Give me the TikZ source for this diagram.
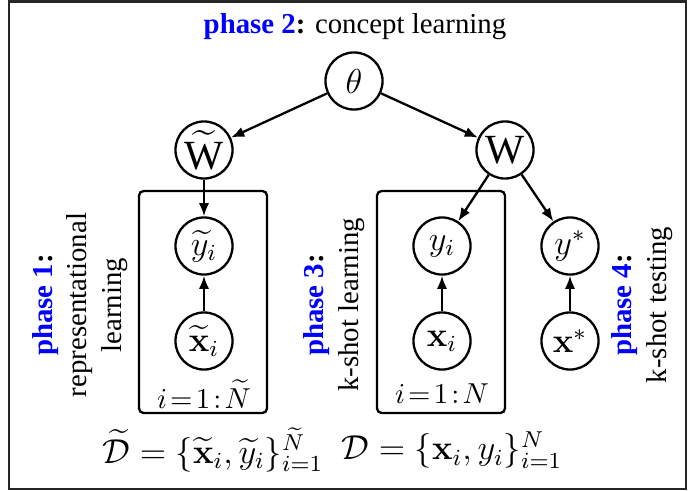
\documentclass[tikz,border=0pt]{standalone}
\usepackage{amsmath, amssymb}
\usepackage[no-math]{fontspec}
\setmainfont{Liberation Serif}
\usetikzlibrary{calc, arrows.meta}
\newcommand{\phase}[1]{\textcolor{blue}{\textbf{phase #1}}\textbf{:}}

\begin{document}
\begin{tikzpicture}[x=0.347pt, y=-0.347pt, >={Latex[length=4.6pt, width=3.6pt]}]
            \tikzset{
                latent/.style = {circle, draw, line width = 0.8pt, minimum size = 19.8pt, inner sep = 0pt, font = \large},
                plate/.style = {draw, line width = 0.8pt, rounded corners = 1.6pt},
                edge/.style = {->, line width = 0.8pt},
                phasetext/.style = {rotate = 90, align = center, inner sep = 0pt}
            }
            \useasboundingbox (0, 0) rectangle (689, 491);
            \draw [line width = 1pt, black!85] (9, 1.5) rectangle (686, 489);

            \pgfmathsetmacro{\colL}{204}  % plate 1
            \pgfmathsetmacro{\colM}{442}  % plate 2
            \pgfmathsetmacro{\colR}{570}  % test pair
            \pgfmathsetmacro{\rowW}{150}
            \pgfmathsetmacro{\rowY}{246}
            \pgfmathsetmacro{\rowX}{341}

            \node (title) at (355, 27) {\phase{2} concept learning};

            \node [latent] (theta) at (354, 81) {$\theta$};
            \node [latent, font = \Large] (Wt) at (\colL, \rowW) {$\widetilde{\text{W}}$};
            \node [latent, font = \Large] (W) at (505, \rowW) {W};

            \node [latent] (yt) at (\colL, \rowY) {$\widetilde{y}_i$};
            \node [latent] (xt) at (\colL, \rowX) {$\widetilde{\mathbf{x}}_i$};
            \node [latent] (y) at (\colM, \rowY) {$y_i$};
            \node [latent] (x) at (\colM, \rowX) {$\mathbf{x}_i$};
            \node [latent] (ys) at (\colR, \rowY) {$y^*$};
            \node [latent] (xs) at (\colR, \rowX) {$\mathbf{x}^*$};

            % plates
            \coordinate (P1a) at (139, 191);
            \coordinate (P1b) at (267, 413);
            \coordinate (P2a) at (377, 191);
            \coordinate (P2b) at (505, 413);
            \draw [plate] (P1a) rectangle (P1b);
            \draw [plate] (P2a) rectangle (P2b);
            \node (N1) at (\colL, 394) {$i\!=\!1\!:\!\widetilde{N}$};
            \node (N2) at (\colM, 394) {$i\!=\!1\!:\!N$};

            \draw [edge] (theta) -- (Wt);
            \draw [edge] (theta) -- (W);
            \draw [edge] (Wt) -- (yt);
            \draw [edge] (W) -- (y);
            \draw [edge] (W) -- (ys);
            \draw [edge] (xt) -- (yt);
            \draw [edge] (x) -- (y);
            \draw [edge] (xs) -- (ys);

            \node [phasetext] (ph1) at (80, 305) {\phase{1}\\representational\\learning};
            \node [phasetext] (ph3) at (334, 305) {\phase{3}\\k-shot learning};
            \node [phasetext] (ph4) at (642, 305) {\phase{4}\\k-shot testing};

            \node (Dt) at (213, 450) {\large $\widetilde{\mathcal{D}} = \{\widetilde{\mathbf{x}}_i, \widetilde{y}_i\}_{i=1}^{\widetilde{N}}$};
            \node (D) at (452, 450) {\large $\mathcal{D} = \{\mathbf{x}_i, y_i\}_{i=1}^{N}$};
        \end{tikzpicture}
\end{document}
